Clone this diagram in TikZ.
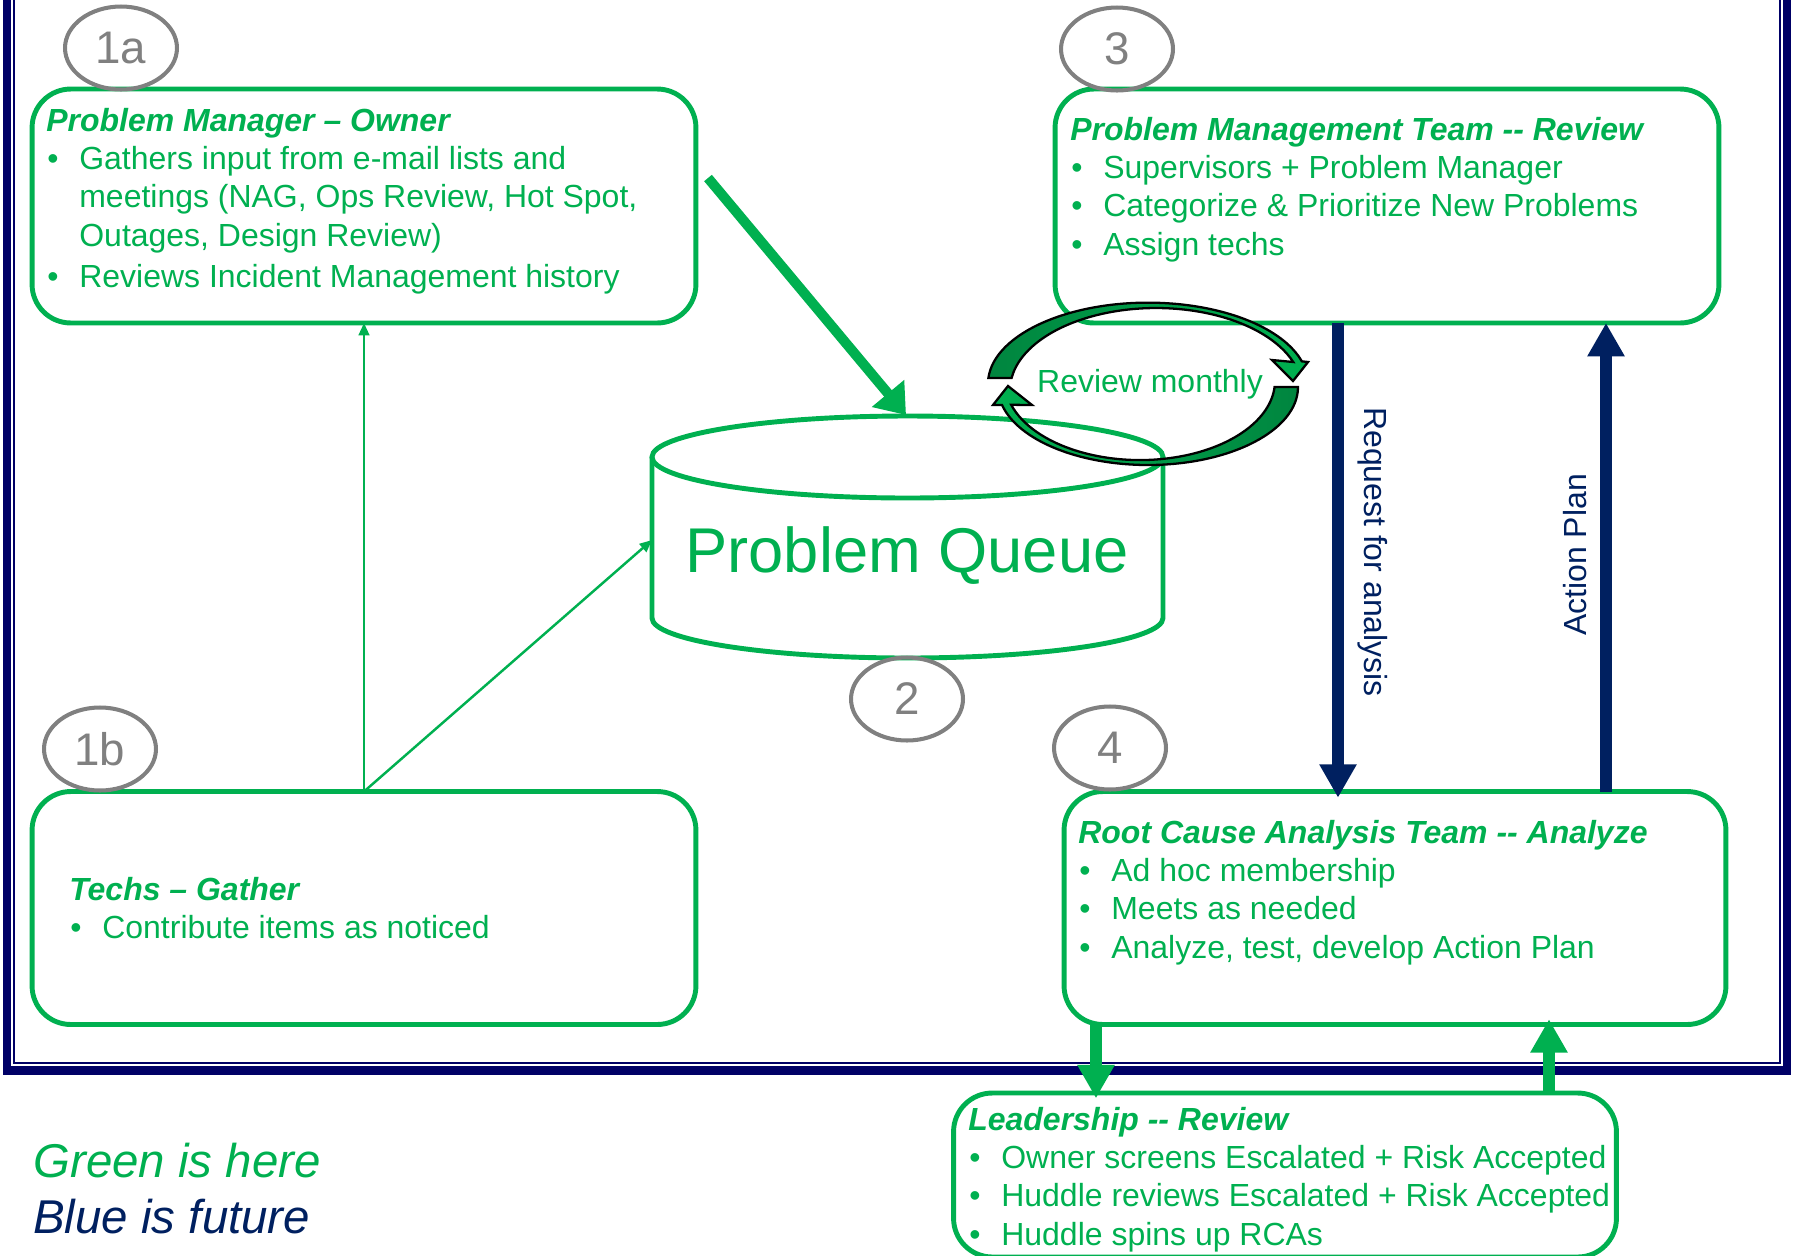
\documentclass[tikz,border=0pt]{standalone}
\usepackage{fontspec}
\setmainfont{Liberation Sans}
\usetikzlibrary{arrows.meta,shapes.geometric}

\definecolor{pmgreen}{HTML}{00B050}
\definecolor{pmdark}{HTML}{00853F}
\definecolor{pmnavy}{HTML}{002060}
\definecolor{framenavy}{HTML}{000066}
\definecolor{pmgrey}{HTML}{808080}

\newcommand{\pmfont}{\fontsize{18.2}{21.9}\selectfont}
\newcommand{\pmbul}{\hspace*{0.02cm}\makebox[0.64cm][l]{\textbullet}}
\newcommand{\pmind}{\hspace*{0.66cm}}

\begin{document}
\begin{tikzpicture}[x=0.02cm, y=-0.02cm,
  pmbox/.style={draw=pmgreen, line width=2.8pt, rounded corners=22pt, inner sep=0pt, outer sep=0pt},
  boxtext/.style={anchor=base west, inner sep=0pt, text=pmgreen, font=\pmfont},
  stepnum/.style={ellipse, draw=pmgrey, line width=2.3pt, minimum width=2.24cm, minimum height=1.66cm,
    inner sep=0pt, text=pmgrey, font=\fontsize{26}{30}\selectfont},
  feed/.style={draw=pmgreen, line width=1.4pt, -{Triangle[length=7pt,width=6pt]}},
  fat/.style={line width=6.8pt, -{Triangle[length=19pt,width=20pt]}},
  cyc/.style={draw=black, line width=1.3pt},
  legend/.style={anchor=base west, inner sep=0pt, font=\fontsize{27}{32}\selectfont\itshape}]

  \useasboundingbox (0,0) rectangle (1796,1255);

  % Double frame (top runs off the page)
  \draw[framenavy, line width=4.8pt] (7,-40) rectangle (1787,1070.5);
  \draw[framenavy, line width=0.9pt] (14,-40) rectangle (1780,1063);

  % Role boxes
  \node[pmbox, minimum width=13.28cm, minimum height=4.68cm] (owner) at (364,206) {};
  \node[pmbox, minimum width=13.28cm, minimum height=4.68cm] (team) at (1387,206) {};
  \node[pmbox, minimum width=13.28cm, minimum height=4.66cm] (techs) at (364,908) {};
  \node[pmbox, minimum width=13.24cm, minimum height=4.66cm] (rca) at (1395,908) {};
  \node[pmbox, minimum width=13.26cm, minimum height=3.28cm] (lead) at (1285,1175) {};

  % Problem queue drum
  \draw[pmgreen, line width=2.8pt] (907.5,457) ellipse[x radius=255.5, y radius=41];
  \draw[pmgreen, line width=2.8pt] (652,457) -- (652,618)
    arc[start angle=180, end angle=0, x radius=255.5, y radius=40] -- (1163,457);
  \node[text=pmgreen, font=\fontsize{36}{43}\selectfont, anchor=base] (queue) at (907,572) {Problem Queue};
  \coordinate (qtop) at (906,415);
  \coordinate (qleft) at (652,540);

  % Inputs to the queue
  \coordinate (ownerout) at (708,178);
  \draw[pmgreen, line width=5.7pt, -{Triangle[length=16pt,width=23pt]}] (ownerout) -- (qtop);
  \draw[feed] (techs.north) -- (owner.south);
  \draw[feed] (techs.north) -- (qleft);

  % Review team <-> RCA team (future)
  \coordinate (reqx) at (1338,0);
  \coordinate (planx) at (1606,0);
  \draw[fat, pmnavy, shorten >=-3.5pt] (team.south -| reqx) -- (rca.north -| reqx);
  \draw[fat, pmnavy] (rca.north -| planx) -- (team.south -| planx);
  \node[text=pmnavy, font=\pmfont, rotate=-90] (reqlbl) at (1373,552) {Request for analysis};
  \node[text=pmnavy, font=\pmfont, rotate=90] (planlbl) at (1575,555) {Action Plan};

  % RCA team <-> leadership
  \coordinate (escx) at (1096,0);
  \coordinate (retx) at (1549,0);
  \draw[fat, pmgreen, shorten >=-3pt] (rca.south -| escx) -- (lead.north -| escx);
  \draw[fat, pmgreen, shorten >=-3pt] (lead.north -| retx) -- (rca.south -| retx);

  % Monthly review loop
  \path[cyc, left color=pmdark, right color=pmgreen] (988.4,378)
    arc[start angle=184, end angle=344, x radius=160, y radius=81]
    -- (1308,362) -- (1293,381) -- (1272,360) -- (1293.2,362)
    arc[start angle=340, end angle=188.4, x radius=146, y radius=82] -- cycle;
  \path[cyc, left color=pmgreen, right color=pmdark] (1298,387)
    arc[start angle=0, end angle=166.7, x radius=150, y radius=78]
    -- (993,405) -- (1008,386) -- (1032,405) -- (1011.2,404.8)
    arc[start angle=162.5, end angle=4.4, x radius=135, y radius=79] -- cycle;
  \node[text=pmgreen, font=\pmfont, anchor=base] (monthly) at (1150,392) {Review monthly};

  % Step numbers
  \node[stepnum] (n1a) at (121,48) {1a};
  \node[stepnum] (n3) at (1117,49) {3};
  \node[stepnum] (n1b) at (100,749) {1b};
  \node[stepnum] (n4) at (1110,748) {4};
  \node[stepnum] (n2) at (907,699) {2};

  % Box contents
  \node[boxtext] (ownertxt) at (46,131) {\begin{tabular}[t]{@{}l@{}}
    \textbf{\textit{Problem Manager – Owner}}\\
    \pmbul Gathers input from e-mail lists and\\
    \pmind meetings (NAG, Ops Review, Hot Spot,\\
    \pmind Outages, Design Review)\\[1.7pt]
    \pmbul Reviews Incident Management history
  \end{tabular}};
  \node[boxtext] (teamtxt) at (1070,140) {\begin{tabular}[t]{@{}l@{}}
    \textbf{\textit{Problem Management Team -{}- Review}}\\
    \pmbul Supervisors + Problem Manager\\
    \pmbul Categorize \& Prioritize New Problems\\
    \pmbul Assign techs
  \end{tabular}};
  \node[boxtext] (techstxt) at (69,900) {\begin{tabular}[t]{@{}l@{}}
    \textbf{\textit{Techs – Gather}}\\
    \pmbul Contribute items as noticed
  \end{tabular}};
  \node[boxtext] (rcatxt) at (1078,843) {\begin{tabular}[t]{@{}l@{}}
    \textbf{\textit{Root Cause Analysis Team -{}- Analyze}}\\
    \pmbul Ad hoc membership\\
    \pmbul Meets as needed\\
    \pmbul Analyze, test, develop Action Plan
  \end{tabular}};
  \node[boxtext] (leadtxt) at (968,1130) {\begin{tabular}[t]{@{}l@{}}
    \textbf{\textit{Leadership -{}- Review}}\\
    \pmbul Owner screens Escalated + Risk Accepted\\
    \pmbul Huddle reviews Escalated + Risk Accepted\\
    \pmbul Huddle spins up RCAs
  \end{tabular}};

  % Legend
  \node[legend, text=pmgreen] (here) at (33,1177) {Green is here};
  \node[legend, text=pmnavy] (future) at (33,1233) {Blue is future};

\end{tikzpicture}
\end{document}
